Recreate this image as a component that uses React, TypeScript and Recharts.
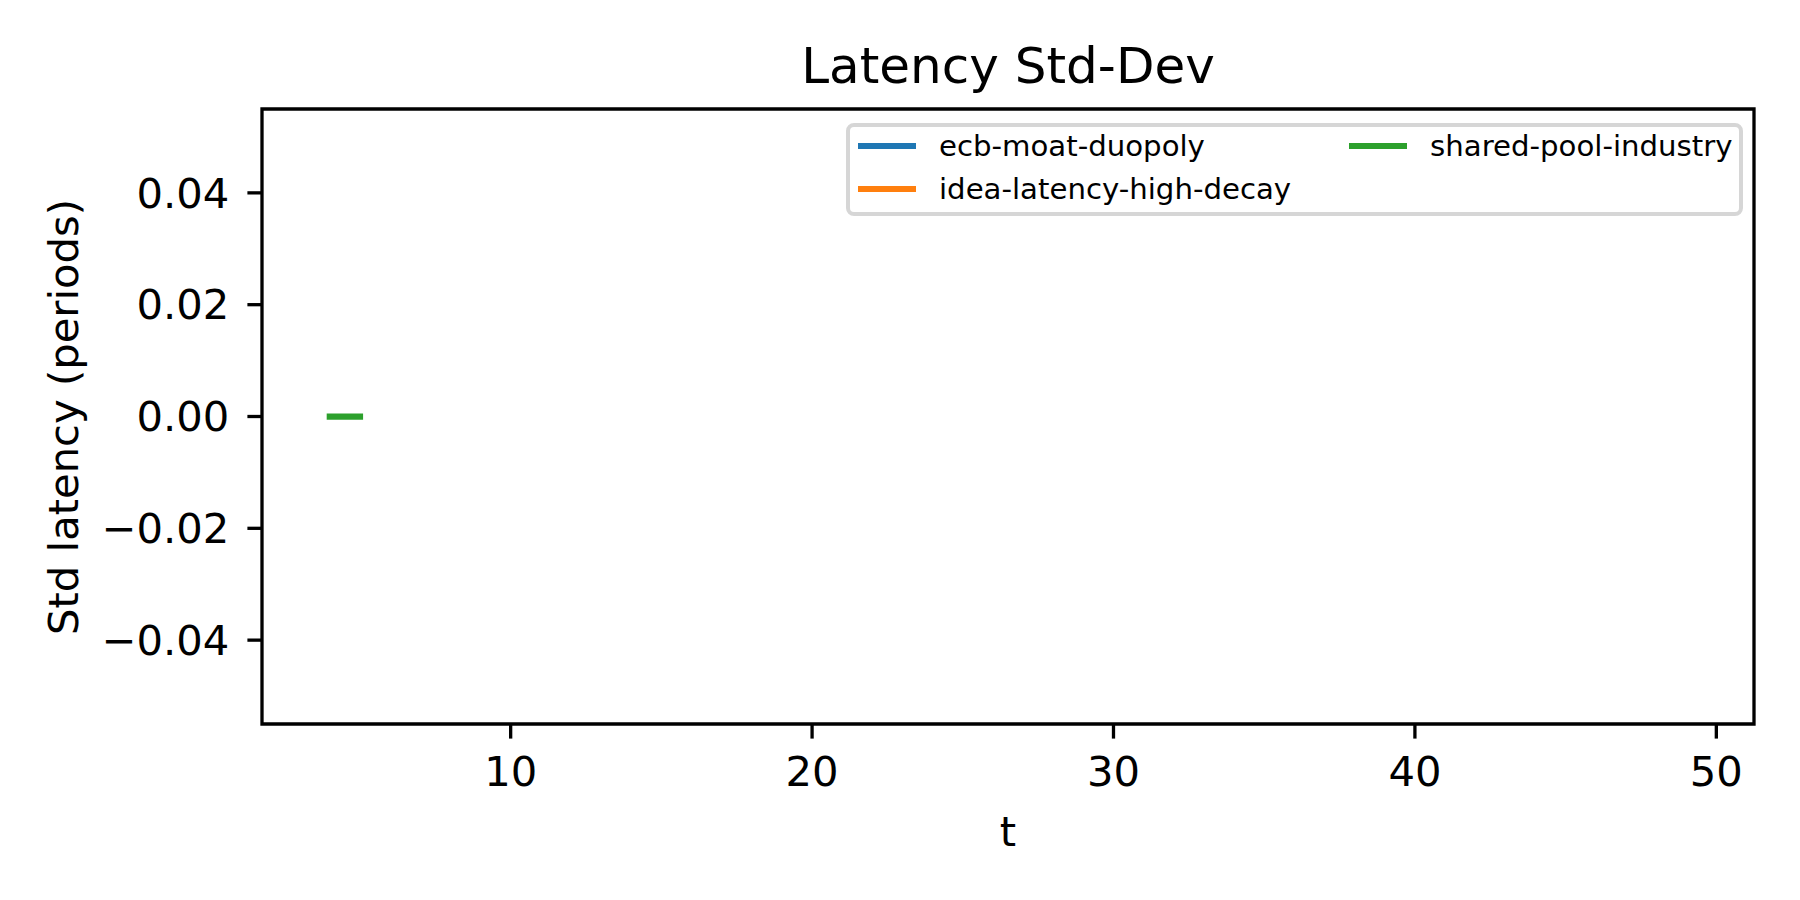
import React from 'react'
import { LineChart, Line, XAxis, YAxis, Legend, ReferenceArea } from 'recharts'

// time steps recorded in the run
const tValues = [
  4, 5, 6, 7, 8, 9, 10, 11, 12, 13, 14, 15, 16, 17, 18, 19, 20, 21, 22, 23, 24, 25, 26,
  27, 28, 29, 30, 31, 32, 33, 34, 35, 36, 37, 38, 39, 40, 41, 42, 43, 44, 45, 46, 47, 48, 49,
]
// std-dev of latency; missing steps are absent (NaN in the source)
const ecbMoatDuopoly: (number | null)[] = []
const ideaLatencyHighDecay: (number | null)[] = []
const sharedPoolIndustry: (number | null)[] = [0, 0]

const xTicks = [10, 20, 30, 40, 50]
const yTicks = [-0.04, -0.02, 0, 0.02, 0.04]
const xDomain: [number, number] = [1.75, 51.25]
const yDomain: [number, number] = [-0.055, 0.055]

const series = [
  { key: 'ecb', name: 'ecb-moat-duopoly', color: '#1f77b4', values: ecbMoatDuopoly },
  { key: 'idea', name: 'idea-latency-high-decay', color: '#ff7f0e', values: ideaLatencyHighDecay },
  { key: 'shared', name: 'shared-pool-industry', color: '#2ca02c', values: sharedPoolIndustry },
]

const rows = tValues.map((t, i) => {
  const row: Record<string, number | null> = { t }
  series.forEach((s) => { row[s.key] = s.values[i] ?? null })
  return row
})

const FONT = '"DejaVu Sans", sans-serif'
const TICK = 41.7
const LW = 3.3

const fmtY = (v: number) => (v < 0 ? '\u2212' + Math.abs(v).toFixed(2) : v.toFixed(2))

const LegendBox = () => (
  <div style={{
    display: 'grid', gridTemplateRows: '30px 30px', gridAutoFlow: 'column',
    columnGap: 58, rowGap: 13, padding: '4px 6px 8px 8px',
    border: '4px solid #d6d6d6', borderRadius: 8, background: '#fff',
    fontSize: 29.2, lineHeight: '30px', color: '#000', fontFamily: FONT,
  }}>
    {series.map((s) => (
      <div key={s.key} style={{ display: 'flex', alignItems: 'center', whiteSpace: 'nowrap' }}>
        <span style={{ display: 'inline-block', width: 58, height: 6, background: s.color, marginRight: 23 }} />
        <span>{s.name}</span>
      </div>
    ))}
  </div>
)

export default function App() {
  return (
    <div style={{ position: 'absolute', left: 0, top: 0, width: 1800, height: 900, background: '#fff', fontFamily: FONT }}>
      <div style={{
        position: 'absolute', left: 262, width: 1492, top: 41, textAlign: 'center',
        fontSize: 50, lineHeight: '50px', color: '#000',
      }}>
        Latency Std-Dev
      </div>
      <div style={{
        position: 'absolute', left: 64, top: 417, transform: 'translate(-50%, -50%) rotate(-90deg)',
        whiteSpace: 'nowrap', fontSize: TICK, lineHeight: '42px', color: '#000',
      }}>
        Std latency (periods)
      </div>
      <LineChart width={1800} height={900} data={rows}
                 margin={{ top: 109, right: 46, bottom: 0, left: 0 }}
                 style={{ fontFamily: FONT }}>
        <XAxis dataKey="t" type="number" domain={xDomain} ticks={xTicks}
               allowDataOverflow height={176} tickSize={14.6} tickMargin={18}
               tick={{ fill: '#000', fontSize: TICK }}
               tickLine={{ stroke: '#000', strokeWidth: LW }}
               axisLine={false}
               label={{ value: 't', position: 'insideBottom', offset: 54, fill: '#000', fontSize: TICK }} />
        <YAxis type="number" domain={yDomain} ticks={yTicks} allowDataOverflow
               width={262} tickSize={14.6} tickMargin={18} tickFormatter={fmtY}
               tick={{ fill: '#000', fontSize: TICK }}
               tickLine={{ stroke: '#000', strokeWidth: LW }}
               axisLine={false} />
        {/* axes frame (all four spines) */}
        <ReferenceArea x1={xDomain[0]} x2={xDomain[1]} y1={yDomain[0]} y2={yDomain[1]}
                       fill="none" fillOpacity={0} stroke="#000" strokeWidth={LW} ifOverflow="visible" />
        <Legend layout="horizontal" verticalAlign="middle" align="center"
                content={() => <LegendBox />}
                wrapperStyle={{ left: 846, top: 123, width: 'auto' }} />
        {series.map((s) => (
          <Line key={s.key} dataKey={s.key} name={s.name} stroke={s.color} strokeWidth={6.25}
                strokeLinecap="square" dot={false} connectNulls={false} isAnimationActive={false} />
        ))}
      </LineChart>
    </div>
  )
}
